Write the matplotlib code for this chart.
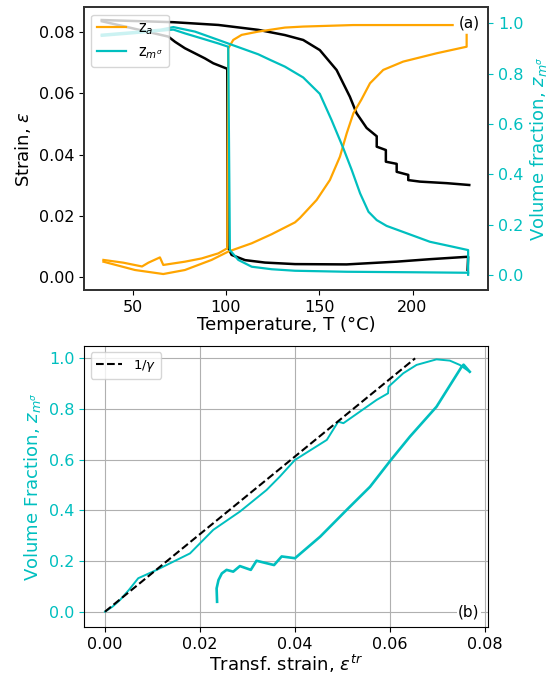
import matplotlib
matplotlib.use("Agg")
import matplotlib.pyplot as plt

# ---------------- Panel (a) data ----------------
# Strain, heating branch
T_heat_eps = [33.4, 50.0, 71.8, 95.9, 117.3, 131.6, 141.4, 150.3, 159.3, 166.4, 170.0,
              175.4, 180.8, 180.8, 185.7, 185.7, 191.5, 191.5, 197.7, 197.7, 204.0,
              218.3, 230.4]
eps_heat = [0.0839, 0.0836, 0.0832, 0.0823, 0.0807, 0.0790, 0.0774, 0.0741, 0.0676,
            0.0589, 0.0535, 0.0487, 0.0460, 0.0426, 0.0415, 0.0377, 0.0370, 0.0344,
            0.0334, 0.0317, 0.0312, 0.0307, 0.0301]
# Strain, cooling branch
T_cool_eps = [229.5, 229.8, 209.3, 191.5, 164.7, 137.0, 120.9, 110.2, 103.0, 100.9,
              100.7, 93.2, 88.7, 78.0, 72.7, 69.1, 65.5, 50.0, 33.5]
eps_cool = [0.0024, 0.0067, 0.0059, 0.0051, 0.0042, 0.0043, 0.0048, 0.0056, 0.0073,
            0.0100, 0.0680, 0.0698, 0.0714, 0.0747, 0.0768, 0.0785, 0.0790, 0.0812,
            0.0835]

# Martensite fraction z_m, heating
T_heat_zm = [33.4, 50.0, 65.0, 71.8, 83.4, 95.9, 103.0, 117.3, 123.6, 131.6, 141.4,
             150.3, 156.6, 162.9, 167.4, 171.9, 176.4, 180.8, 186.1, 196.8, 209.3,
             221.8, 229.8, 229.8]
zm_heat = [0.955, 0.965, 0.975, 0.985, 0.967, 0.934, 0.915, 0.877, 0.855, 0.828, 0.785,
           0.720, 0.616, 0.504, 0.418, 0.325, 0.252, 0.219, 0.196, 0.167, 0.133, 0.113,
           0.100, 0.002]
# Martensite fraction z_m, cooling
T_cool_zm = [229.8, 200.4, 164.7, 137.0, 124.5, 113.8, 106.6, 102.1, 101.2, 95.9, 87.0,
             78.0, 71.8, 50.0, 33.4]
zm_cool = [0.010, 0.012, 0.014, 0.018, 0.024, 0.034, 0.061, 0.100, 0.907, 0.920, 0.940,
           0.960, 0.975, 0.960, 0.950]

# Austenite fraction z_a, heating
T_heat_za = [34.3, 51.2, 66.4, 78.0, 92.3, 101.2, 113.8, 124.5, 129.0, 137.0, 139.7,
             148.6, 155.7, 161.1, 164.7, 168.3, 172.5, 177.2, 184.3, 195.0, 212.9,
             229.0, 229.0]
za_heat = [0.054, 0.021, 0.005, 0.021, 0.061, 0.094, 0.127, 0.163, 0.180, 0.210, 0.228,
           0.299, 0.378, 0.471, 0.563, 0.643, 0.696, 0.762, 0.815, 0.848, 0.881, 0.907,
           0.954]
# Austenite fraction z_a, cooling
T_cool_za = [221.5, 168.2, 141.4, 131.6, 117.3, 108.4, 103.9, 101.2, 100.7, 95.9, 87.0,
             78.0, 66.4, 64.6, 58.4, 55.0, 45.0, 34.3]
za_cool = [0.993, 0.993, 0.987, 0.983, 0.967, 0.954, 0.934, 0.900, 0.107, 0.087, 0.067,
           0.054, 0.041, 0.071, 0.050, 0.035, 0.050, 0.061]

# ---------------- Panel (b) data ----------------
eps_tr_up = [0.0, 0.0016, 0.00316, 0.0050, 0.0070, 0.0109, 0.0137, 0.0179, 0.0228,
             0.0284, 0.0340, 0.0368, 0.0400, 0.0467, 0.0491, 0.0502, 0.0572, 0.0596,
             0.0597, 0.0628, 0.0656, 0.0698, 0.0726, 0.0747, 0.0768]
zm_up = [0.0, 0.020, 0.046, 0.085, 0.132, 0.165, 0.191, 0.230, 0.323, 0.395, 0.480,
         0.533, 0.599, 0.678, 0.750, 0.744, 0.836, 0.862, 0.888, 0.941, 0.974, 0.996,
         0.991, 0.974, 0.947]
eps_tr_down = [0.0768, 0.0755, 0.0751, 0.0698, 0.0642, 0.0602, 0.0558, 0.0509, 0.0453,
               0.0400, 0.0372, 0.0356, 0.0319, 0.0307, 0.0284, 0.0270, 0.0256, 0.0246,
               0.0239, 0.0235, 0.0236]
zm_down = [0.947, 0.975, 0.967, 0.809, 0.691, 0.599, 0.493, 0.402, 0.296, 0.211, 0.218,
           0.184, 0.201, 0.165, 0.180, 0.158, 0.165, 0.151, 0.125, 0.092, 0.039]
gamma_eps = [0.0, 0.0653]
gamma_z = [0.0, 1.0]

CYAN = "#00BFBF"
ORANGE = "#FFA500"

fig = plt.figure(figsize=(5.49, 6.75), dpi=100)
TICK = 11.5
LAB = 13

# ---- top panel ----
ax1 = fig.add_axes([0.153, 0.5704, 0.7364, 0.4188])
ax2 = ax1.twinx()
ax1.plot(T_heat_eps, eps_heat, color="black", lw=1.8)
ax1.plot(T_cool_eps, eps_cool, color="black", lw=1.8)
l1, = ax2.plot(T_heat_za, za_heat, color=ORANGE, lw=1.6, label="z$_a$")
ax2.plot(T_cool_za, za_cool, color=ORANGE, lw=1.6)
l2, = ax2.plot(T_heat_zm, zm_heat, color=CYAN, lw=1.6, label="z$_{m^\\sigma}$")
ax2.plot(T_cool_zm, zm_cool, color=CYAN, lw=1.6)

ax1.set_xlim(23.9, 240.6)
ax1.set_ylim(-0.00414, 0.08806)
ax2.set_ylim(-0.0583, 1.0635)
ax1.set_xticks([50, 100, 150, 200])
ax1.set_yticks([0.0, 0.02, 0.04, 0.06, 0.08])
ax2.set_yticks([0.0, 0.2, 0.4, 0.6, 0.8, 1.0])
ax1.tick_params(labelsize=TICK)
ax2.tick_params(labelsize=TICK, colors=CYAN)
ax1.set_xlabel("Temperature, T (°C)", fontsize=LAB, labelpad=1)
ax1.set_ylabel("Strain, $\\varepsilon$", fontsize=LAB)
ax2.set_ylabel("Volume fraction, $z_{m^\\sigma}$", fontsize=LAB, color=CYAN, labelpad=3)
for a in (ax1, ax2):
    for s in a.spines.values():
        s.set_color("#333333")
        s.set_linewidth(1.3)
ax2.legend(handles=[l1, l2], loc="upper left", fontsize=10.5)
ax1.text(0.952, 0.944, "(a)", transform=ax1.transAxes, ha="center", va="center",
         fontsize=11, bbox=dict(facecolor="white", edgecolor="none", pad=1))

# ---- bottom panel ----
ax3 = fig.add_axes([0.153, 0.0707, 0.7364, 0.4172])
ax3.grid(True, color="#b0b0b0", lw=0.8)
ax3.set_axisbelow(True)
ax3.plot(gamma_eps, gamma_z, color="black", ls="--", lw=1.5, label="1/$\\gamma$", zorder=3)
ax3.plot(eps_tr_up, zm_up, color=CYAN, lw=1.4, zorder=2)
ax3.plot(eps_tr_down, zm_down, color=CYAN, lw=1.9, zorder=2)
ax3.set_xlim(-0.00442, 0.0807)
ax3.set_ylim(-0.0616, 1.050)
ax3.set_xticks([0.0, 0.02, 0.04, 0.06, 0.08])
ax3.set_yticks([0.0, 0.2, 0.4, 0.6, 0.8, 1.0])
ax3.tick_params(labelsize=TICK)
ax3.tick_params(axis="y", colors=CYAN)
ax3.set_xlabel("Transf. strain, $\\varepsilon^{tr}$", fontsize=LAB, labelpad=1)
ax3.set_ylabel("Volume Fraction, $z_{m^\\sigma}$", fontsize=LAB, color=CYAN)
ax3.legend(loc="upper left", fontsize=9.5)
ax3.text(0.952, 0.054, "(b)", transform=ax3.transAxes, ha="center", va="center",
         fontsize=11, bbox=dict(facecolor="white", edgecolor="none", pad=1))

fig.savefig("out.png", dpi=100)
